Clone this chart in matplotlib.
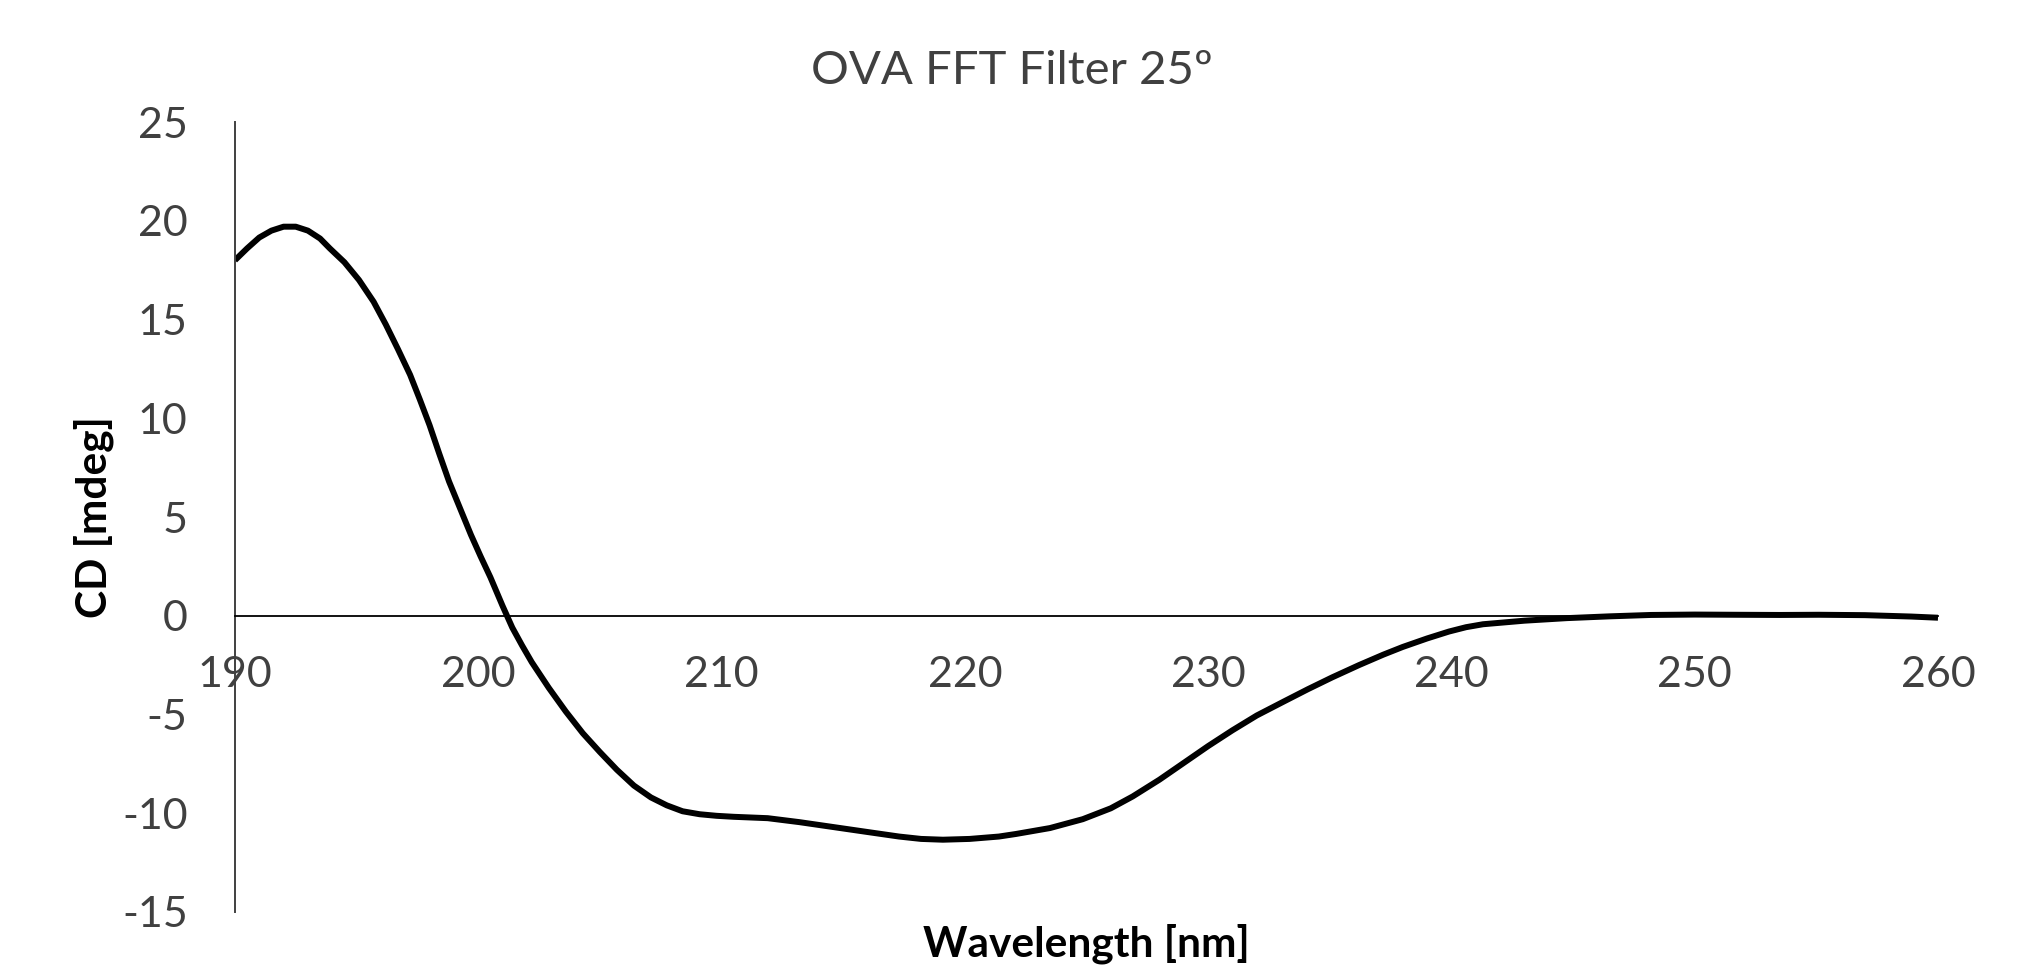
import matplotlib.pyplot as plt
import numpy as np

# Valores (comprimento de onda em nm, CD em mdeg)
wavelength = [190.0, 190.5, 191.0, 191.5, 192.0, 192.5, 193.0, 193.5, 193.9, 194.5,
              195.1, 195.7, 196.2, 196.7, 197.2, 197.6, 198.0, 198.4, 198.8, 199.3,
              199.7, 200.1, 200.5, 201.0, 201.4, 201.8, 202.2, 202.9, 203.6, 204.3,
              205.0, 205.7, 206.4, 207.1, 207.75, 208.4, 209.1, 209.8, 210.5, 211.9,
              213.2, 214.6, 216.0, 217.3, 218.2, 219.1, 220.2, 221.4, 222.1, 223.5,
              224.85, 226.0, 226.9, 228.0, 229.0, 230.0, 231.0, 232.0, 233.1, 234.1,
              235.1, 236.2, 237.2, 238.0, 239.0, 239.9, 240.6, 241.3, 243.0, 244.75,
              246.5, 248.2, 250.0, 251.6, 253.5, 255.1, 257.0, 258.9, 260.0]
cd = [18.0, 18.6, 19.15, 19.5, 19.7, 19.7, 19.5, 19.1, 18.6, 17.9,
      17.0, 15.9, 14.75, 13.5, 12.2, 10.95, 9.65, 8.2, 6.8, 5.3,
      4.1, 3.0, 1.95, 0.5, -0.6, -1.5, -2.35, -3.65, -4.85, -5.95,
      -6.9, -7.8, -8.6, -9.2, -9.6, -9.9, -10.05, -10.13, -10.18, -10.25,
      -10.45, -10.7, -10.95, -11.18, -11.3, -11.34, -11.3, -11.18, -11.05, -10.75,
      -10.3, -9.75, -9.15, -8.3, -7.45, -6.6, -5.8, -5.05, -4.35, -3.72,
      -3.12, -2.5, -1.97, -1.58, -1.15, -0.8, -0.58, -0.43, -0.25, -0.12,
      -0.03, 0.04, 0.06, 0.05, 0.04, 0.05, 0.03, -0.04, -0.1]

x_ticks = [190, 200, 210, 220, 230, 240, 250, 260]
y_ticks = [-15, -10, -5, 0, 5, 10, 15, 20, 25]

plt.rcParams['font.family'] = ['Lato', 'DejaVu Sans']
plt.rcParams['axes.unicode_minus'] = False

fig = plt.figure(figsize=(20.34, 9.73), dpi=100)
ax = fig.add_axes([0.1155, 0.0627, 0.8373, 0.8119])

ax.plot(wavelength, cd, color='black', linewidth=4.3,
        solid_capstyle='butt', solid_joinstyle='round')

ax.set_xlim(190, 260)
ax.set_ylim(-15, 25)
ax.set_xticks(x_ticks)
ax.set_yticks(y_ticks)

ax.spines['top'].set_visible(False)
ax.spines['right'].set_visible(False)
ax.spines['bottom'].set_position(('data', 0))
ax.spines['bottom'].set_color('black')
ax.spines['bottom'].set_linewidth(1.3)
ax.spines['left'].set_color('#404040')
ax.spines['left'].set_linewidth(1.4)

ax.tick_params(axis='x', length=0, pad=29, labelsize=31, colors='#404040')
ax.tick_params(axis='y', length=0, pad=34, labelsize=31, colors='#404040')

fig.text(0.4975, 0.927, 'OVA FFT Filter 25º', fontsize=34, color='#404040', ha='center', va='center')
fig.text(0.534, 0.03, 'Wavelength [nm]', fontsize=30.5, fontweight='bold', ha='center', va='center')
fig.text(0.046, 0.469, 'CD [mdeg]', fontsize=30.5, fontweight='bold', rotation=90, ha='center', va='center')

fig.savefig('out.png', dpi=100)
